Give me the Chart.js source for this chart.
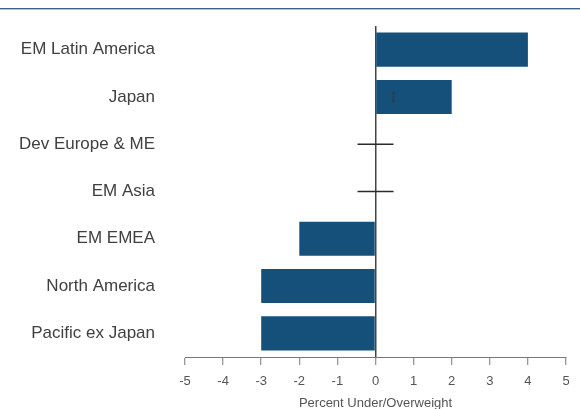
<!DOCTYPE html>
<html>
<head>
<meta charset="utf-8">
<script src="https://cdn.jsdelivr.net/npm/chart.js@4.4.1/dist/chart.umd.min.js"></script>
<style>
  html, body { margin: 0; padding: 0; background: #fff; }
  #wrap { position: relative; width: 580px; height: 409px; }
  #topline { position: absolute; left: 0; right: 0; top: 8px; height: 1px;
             background: #3b6285; border-bottom: 1px solid #b5c3d1; }
  canvas { display: block; }
</style>
</head>
<body>
<div id="wrap">
  <div id="topline"></div>
  <canvas id="weightChart"></canvas>
</div>
<script>
const categories = [
  "EM Latin America",
  "Japan",
  "Dev Europe & ME",
  "EM Asia",
  "EM EMEA",
  "North America",
  "Pacific ex Japan"
];
const weights = [4, 2, 0, 0, -2, -3, -3];
const neutralRegions = ["Dev Europe & ME", "EM Asia"];
// stray range marker visible inside the Japan bar
const rangeMarks = [{ x: 0.47, y: "Japan" }];
const xMin = -5;
const xMax = 5;

const FONT = "'Liberation Sans', Lato, sans-serif";

function initChart() {
  const ctx = document.getElementById("weightChart").getContext("2d");

  // the little crosses drawn on the zero line for neutral regions
  const neutralMarks = neutralRegions.map((name) => ({ x: 0, y: name }));

  new Chart(ctx, {
    type: "bar",
    data: {
      labels: categories,
      datasets: [
        {
          type: "scatter",
          data: neutralMarks,
          pointStyle: "line",
          pointRadius: 18,
          borderColor: "#2b2b2b",
          borderWidth: 1.5,
          order: 0
        },
        {
          type: "scatter",
          data: rangeMarks,
          pointStyle: "line",
          pointRotation: 90,
          pointRadius: 5.5,
          borderColor: "#2a3f55",
          borderWidth: 2,
          order: 0
        },
        {
          data: weights,
          backgroundColor: "#14507a",
          borderWidth: 0,
          barPercentage: 0.72,
          categoryPercentage: 1,
          order: 1
        }
      ]
    },
    options: {
      indexAxis: "y",
      responsive: true,
      maintainAspectRatio: false,
      animation: false,
      layout: {
        autoPadding: false, // otherwise the 18px cross markers add padding
        padding: { left: 15, right: 14, top: 26, bottom: 0 }
      },
      plugins: {
        legend: { display: false },
        tooltip: { enabled: false }
      },
      scales: {
        x: {
          type: "linear",
          min: xMin,
          max: xMax,
          afterFit: (scale) => {
            scale.height = 52;
            scale.paddingLeft = 0;
            scale.paddingRight = 0;
          },
          ticks: {
            stepSize: 1,
            color: "#555",
            padding: 9,
            font: { family: FONT, size: 13 }
          },
          grid: {
            color: (c) => (c.tick && c.tick.value === 0 ? "#444" : "transparent"),
            lineWidth: 1.5,
            tickColor: "#777",
            tickLength: 8,
            tickWidth: 1
          },
          border: { display: true, color: "#777", width: 1 },
          title: {
            display: true,
            text: "Percent Under/Overweight",
            color: "#555",
            font: { family: FONT, size: 13 },
            padding: { top: 0, bottom: -2 }
          }
        },
        y: {
          type: "category",
          afterFit: (scale) => {
            scale.width = 170;
            scale.paddingTop = 0;
            scale.paddingBottom = 0;
          },
          ticks: {
            color: "#404040",
            padding: 22,
            font: { family: FONT, size: 17 }
          },
          grid: { display: false },
          border: { display: false }
        }
      }
    }
  });
}

document.addEventListener("DOMContentLoaded", () => {
  initChart();
});
</script>
</body>
</html>
